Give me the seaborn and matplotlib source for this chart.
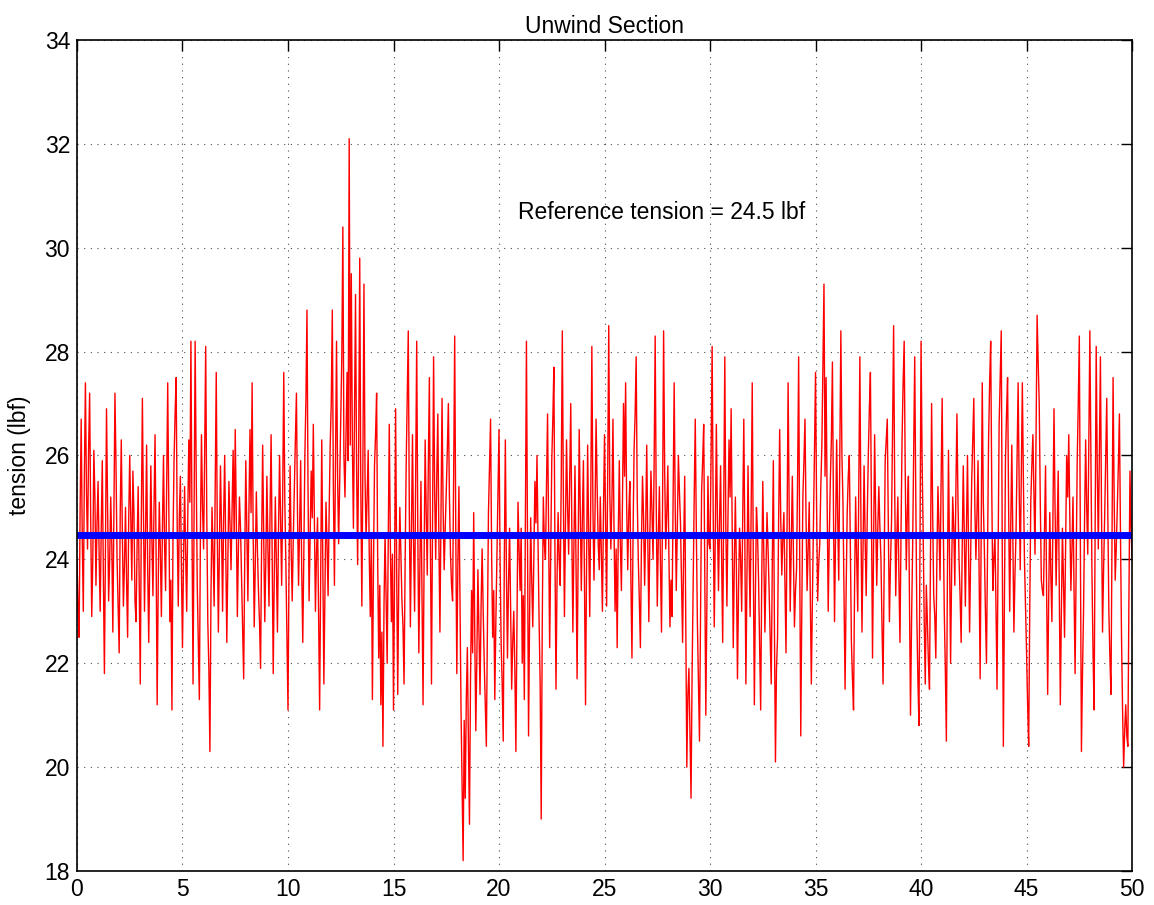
import numpy as np
import pandas as pd
import matplotlib
matplotlib.use("Agg")
import matplotlib.pyplot as plt
import seaborn as sns

# ---- data (tension in lbf, 20 samples per second) ----
tension_00_10 = [
    24.0, 23.1, 22.5, 25.0, 26.7, 24.4, 23.0, 25.6, 27.4, 25.3, 24.2, 26.1, 27.2, 24.8, 22.9, 24.0, 26.1, 25.2, 23.5, 24.7,
    25.5, 24.1, 23.0, 24.6, 25.9, 23.7, 21.8, 24.2, 26.9, 25.1, 23.2, 24.0, 25.2, 24.3, 22.6, 25.0, 27.2, 25.8, 24.0, 23.1,
    22.2, 24.9, 26.3, 24.5, 23.1, 23.9, 25.0, 23.6, 22.5, 24.7, 26.0, 24.8, 23.6, 25.7, 24.9, 23.2, 22.8, 24.3, 25.4, 23.4,
    21.6, 24.8, 27.1, 24.9, 23.0, 24.5, 26.2, 23.9, 22.4, 24.0, 25.8, 24.4, 23.3, 25.0, 26.4, 24.1, 21.2, 23.5, 25.1, 24.2,
    22.9, 24.6, 26.0, 24.3, 23.4, 25.5, 27.4, 25.0, 22.8, 23.6, 21.1, 24.4, 25.9, 26.8, 27.5, 24.6, 23.1, 24.8, 25.6, 23.8,
    22.3, 24.0, 25.4, 24.1, 23.0, 24.8, 26.3, 25.1, 28.2, 24.7, 21.6, 24.9, 28.2, 25.7, 23.5, 22.4, 21.3, 24.5, 26.4, 25.0,
    24.2, 26.0, 28.1, 24.9, 22.8, 21.9, 20.3, 23.3, 25.0, 24.1, 23.1, 25.3, 27.6, 24.5, 22.6, 24.2, 25.8, 24.6, 23.0, 24.8,
    26.0, 24.1, 22.4, 24.0, 25.5, 24.7, 23.8, 25.0, 26.1, 24.4, 26.5, 24.8, 22.9, 24.2, 25.2, 24.6, 23.6, 22.6, 21.7, 24.0,
    25.9, 24.6, 23.2, 25.0, 26.5, 24.9, 27.4, 24.5, 22.7, 23.9, 25.3, 24.2, 23.4, 22.8, 21.9, 24.3, 26.2, 24.4, 22.8, 24.0,
    25.6, 24.2, 23.1, 24.9, 26.4, 24.0, 21.8, 23.7, 25.2, 23.9, 22.6, 24.5, 26.0, 24.7, 23.5, 25.3, 27.6, 25.1, 23.9, 22.5,
]
tension_10_20 = [
    21.1, 23.9, 25.8, 24.2, 23.2, 24.4, 25.4, 26.3, 27.2, 24.9, 23.5, 24.6, 25.9, 23.8, 22.4, 24.1, 26.0, 27.1, 28.8, 25.3,
    23.2, 24.5, 25.7, 24.8, 26.6, 24.7, 23.0, 24.1, 24.8, 23.0, 21.1, 23.8, 26.3, 23.9, 21.6, 23.4, 25.1, 24.3, 23.3, 24.9,
    26.2, 27.0, 28.8, 25.4, 23.5, 25.9, 28.2, 25.6, 24.3, 25.5, 26.8, 27.9, 30.4, 26.0, 25.2, 26.4, 27.6, 25.9, 32.1, 26.2,
    29.5, 26.3, 24.6, 26.7, 29.1, 25.8, 23.9, 26.2, 29.8, 25.4, 23.1, 25.9, 29.3, 25.6, 24.4, 25.2, 26.1, 24.1, 22.9, 24.5,
    21.3, 23.8, 25.8, 26.4, 27.2, 24.0, 22.1, 23.5, 21.2, 22.6, 20.4, 23.1, 24.5, 23.2, 22.0, 24.4, 26.6, 24.3, 22.8, 24.1,
    21.1, 23.7, 26.9, 23.8, 21.4, 23.6, 25.0, 24.1, 23.2, 22.7, 21.6, 23.9, 25.8, 27.1, 28.4, 24.9, 22.7, 24.6, 26.4, 24.3,
    23.0, 25.5, 28.2, 24.6, 22.2, 23.9, 25.5, 23.4, 21.2, 24.0, 26.3, 24.9, 23.7, 25.8, 27.5, 24.2, 21.6, 24.7, 27.9, 25.3,
    24.0, 25.6, 26.8, 24.4, 22.6, 24.9, 27.1, 25.0, 23.8, 24.6, 25.3, 26.1, 27.0, 25.2, 24.1, 23.5, 23.2, 25.6, 28.3, 24.6,
    21.8, 23.9, 25.4, 23.2, 21.1, 19.6, 18.2, 20.9, 19.4, 21.3, 22.3, 20.5, 18.9, 21.7, 23.4, 22.2, 24.9, 22.6, 20.7, 22.1,
    23.8, 22.6, 21.4, 23.1, 24.2, 23.0, 22.0, 21.2, 20.4, 22.7, 24.9, 25.8, 26.7, 24.1, 22.5, 23.4, 21.3, 22.8, 24.0, 25.1,
]
tension_20_30 = [
    26.5, 24.0, 22.4, 21.6, 20.5, 23.9, 26.3, 23.8, 22.1, 23.5, 24.6, 23.0, 21.5, 22.4, 23.0, 21.9, 20.3, 22.8, 25.1, 24.2,
    23.4, 24.6, 22.0, 23.3, 21.3, 24.9, 28.2, 24.4, 20.6, 22.9, 24.8, 23.6, 22.7, 24.0, 25.5, 24.7, 26.0, 24.3, 22.8, 21.6,
    19.0, 22.8, 25.2, 24.3, 24.0, 25.4, 26.8, 24.5, 22.3, 24.1, 25.9, 26.7, 27.7, 24.2, 21.5, 23.6, 24.9, 24.0, 23.5, 25.6,
    28.4, 25.2, 22.9, 24.7, 26.3, 25.0, 24.1, 25.5, 27.0, 24.6, 22.6, 24.3, 25.8, 23.9, 21.7, 24.1, 26.5, 24.9, 23.4, 24.8,
    25.9, 23.5, 21.2, 24.0, 26.2, 24.4, 22.9, 25.3, 28.1, 25.0, 23.6, 24.9, 26.7, 25.4, 24.3, 23.8, 25.2, 24.1, 23.0, 24.9,
    26.4, 24.7, 23.1, 25.6, 28.5, 25.3, 24.2, 25.1, 26.7, 24.6, 23.0, 24.2, 22.3, 24.4, 25.9, 24.3, 23.4, 25.1, 27.0, 25.6,
    27.4, 25.0, 23.8, 24.9, 25.5, 23.6, 22.1, 24.4, 26.1, 26.8, 27.9, 25.2, 24.0, 23.2, 22.3, 24.3, 25.6, 24.8, 23.5, 24.6,
    26.2, 24.4, 22.8, 24.5, 25.7, 24.9, 24.0, 25.8, 28.3, 25.1, 23.1, 24.4, 25.4, 23.9, 22.6, 25.0, 28.4, 25.7, 24.2, 24.9,
    25.8, 24.1, 22.7, 23.6, 22.9, 25.1, 27.4, 25.0, 23.4, 24.6, 26.0, 25.3, 24.7, 23.6, 22.4, 24.2, 25.6, 22.7, 20.0, 21.4,
    21.9, 20.6, 19.4, 21.8, 23.5, 25.2, 26.7, 24.6, 22.8, 21.6, 20.5, 23.0, 25.3, 25.9, 26.6, 23.8, 21.0, 23.1, 25.6, 24.3,
]
tension_30_40 = [
    24.2, 26.0, 28.1, 24.9, 22.7, 24.5, 26.6, 24.8, 23.4, 24.7, 25.8, 24.0, 22.4, 25.1, 27.9, 24.6, 23.1, 24.8, 26.3, 25.2,
    26.9, 24.6, 22.3, 23.9, 25.2, 23.8, 21.7, 23.4, 24.6, 24.0, 23.0, 24.8, 26.7, 24.3, 21.6, 23.7, 25.8, 24.1, 22.9, 25.0,
    27.4, 24.0, 21.2, 23.3, 25.0, 24.5, 23.6, 22.4, 21.1, 23.6, 25.5, 24.0, 22.6, 23.8, 24.9, 24.2, 23.4, 22.5, 21.6, 23.9,
    25.9, 22.8, 20.1, 21.9, 22.5, 24.7, 26.5, 24.8, 23.7, 24.4, 24.9, 23.6, 22.2, 24.6, 27.4, 25.0, 23.0, 24.3, 25.6, 24.1,
    22.7, 23.4, 23.8, 25.6, 27.9, 24.0, 20.6, 23.1, 25.2, 25.9, 26.7, 24.8, 23.4, 24.2, 25.1, 23.3, 21.6, 23.2, 24.6, 26.1,
    27.6, 25.0, 23.2, 23.9, 24.3, 25.4, 26.2, 27.7, 29.3, 25.6, 27.5, 25.1, 23.0, 24.4, 25.5, 26.3, 27.8, 24.9, 22.8, 24.5,
    26.3, 24.8, 23.6, 25.9, 28.4, 26.0, 25.1, 23.2, 21.5, 23.4, 24.9, 25.6, 26.0, 24.1, 22.4, 21.7, 21.1, 23.5, 25.2, 24.0,
    23.0, 25.4, 27.9, 24.8, 22.6, 24.2, 25.8, 24.4, 23.3, 24.8, 26.0, 26.9, 27.6, 24.7, 22.1, 24.3, 26.4, 24.8, 23.5, 24.6,
    25.4, 24.6, 24.0, 22.7, 21.6, 23.8, 25.9, 26.3, 26.7, 24.6, 22.8, 23.9, 24.7, 26.5, 28.5, 25.4, 23.3, 24.4, 25.2, 23.7,
    22.4, 24.5, 26.3, 27.4, 28.2, 25.7, 23.8, 24.9, 25.6, 23.2, 21.0, 22.8, 24.2, 26.1, 27.9, 25.2, 22.9, 21.7, 20.8, 24.3,
]
tension_40_50 = [
    28.2, 25.9, 24.5, 22.8, 21.6, 23.5, 22.8, 22.0, 21.5, 24.4, 27.0, 24.9, 23.3, 22.9, 22.1, 24.0, 25.4, 24.6, 23.6, 25.5,
    27.1, 24.8, 23.0, 21.9, 20.5, 23.7, 26.1, 24.0, 22.0, 23.8, 25.2, 24.6, 23.5, 25.3, 26.8, 25.1, 24.0, 23.3, 22.4, 24.2,
    25.8, 24.4, 23.1, 24.6, 26.0, 24.2, 22.6, 24.1, 25.5, 26.3, 27.1, 25.0, 24.0, 24.9, 25.9, 23.9, 21.7, 24.6, 27.4, 25.1,
    24.2, 23.0, 22.0, 24.2, 26.3, 27.4, 28.2, 25.4, 23.4, 24.0, 24.5, 23.1, 21.5, 24.0, 26.6, 27.5, 28.4, 24.1, 20.4, 23.3,
    25.9, 26.8, 27.5, 25.0, 23.0, 24.6, 26.2, 24.3, 22.6, 23.7, 24.5, 25.9, 27.4, 25.4, 23.8, 25.6, 27.4, 25.5, 24.0, 23.1,
    22.2, 21.2, 20.4, 23.0, 25.1, 25.8, 26.4, 25.2, 24.1, 26.3, 28.7, 27.8, 27.0, 25.1, 23.6, 23.4, 23.3, 24.6, 25.8, 23.4,
    21.4, 23.3, 24.9, 23.7, 22.8, 24.8, 26.9, 25.0, 23.5, 24.6, 25.7, 23.4, 21.2, 23.0, 24.6, 23.6, 22.5, 24.3, 26.0, 25.2,
    26.4, 24.8, 23.4, 24.2, 25.2, 23.4, 21.8, 23.9, 25.9, 27.0, 28.3, 24.1, 20.3, 21.8, 23.0, 24.8, 26.3, 25.0, 24.1, 26.2,
    28.4, 25.9, 23.7, 22.2, 21.1, 24.6, 28.1, 25.8, 24.2, 26.1, 27.9, 25.0, 22.6, 23.8, 24.8, 26.0, 27.1, 24.9, 23.0, 22.1,
    21.4, 24.6, 27.5, 25.2, 23.6, 24.2, 25.0, 25.8, 26.8, 24.5, 22.5, 21.1, 20.0, 20.7, 21.2, 20.6, 20.4, 23.2, 25.7, 24.6,
    24.0,
]
reference_tension = 24.5      # value quoted in the annotation
reference_level = 24.47       # level of the blue line as drawn
time_span = [0, 50]
x_ticks = [0, 5, 10, 15, 20, 25, 30, 35, 40, 45, 50]
y_ticks = [18, 20, 22, 24, 26, 28, 30, 32, 34]

tension = tension_00_10 + tension_10_20 + tension_20_30 + tension_30_40 + tension_40_50
time = np.linspace(time_span[0], time_span[1], len(tension))
df = pd.DataFrame({"time": time, "tension": tension})
ref_df = pd.DataFrame({"time": time_span, "tension": [reference_level, reference_level]})

# ---- style ----
sns.set_style("white")
plt.rcParams["font.family"] = ["Liberation Sans", "DejaVu Sans"]
plt.rcParams["text.color"] = "black"
plt.rcParams["axes.labelcolor"] = "black"
plt.rcParams["xtick.color"] = "black"
plt.rcParams["ytick.color"] = "black"

fig = plt.figure(figsize=(11.54, 9.05), dpi=100)
ax = fig.add_axes([0.0667, 0.0376, 0.9143, 0.9182])

sns.lineplot(data=df, x="time", y="tension", color="#ff0000", linewidth=1.0,
             estimator=None, sort=False, ax=ax)
sns.lineplot(data=ref_df, x="time", y="tension", color="#0000ff", linewidth=5.0,
             estimator=None, sort=False, ax=ax)

ax.set_xlim(0, 50)
ax.set_ylim(18, 34)
ax.set_xticks(x_ticks)
ax.set_yticks(y_ticks)
ax.set_xticklabels([str(t) for t in x_ticks])
ax.set_yticklabels([str(t) for t in y_ticks])
ax.tick_params(direction="in", length=8, width=1, labelsize=16.5, color="black",
               labelcolor="black", top=True, right=True, pad=5)
ax.grid(True, linestyle=(0, (1, 5)), color="black", linewidth=0.8, alpha=0.7)
for s in ax.spines.values():
    s.set_color("black")
    s.set_linewidth(1.2)
    s.set_visible(True)

ax.set_xlabel("")
ax.set_ylabel("tension (lbf)", fontsize=16.5, labelpad=10, color="black")
ax.set_title("Unwind Section", fontsize=16.5, pad=5, color="black")
ax.text(20.9, 30.67, f"Reference tension = {reference_tension} lbf",
        fontsize=16.5, ha="left", va="center", color="black")

fig.savefig("out.png", dpi=100)
